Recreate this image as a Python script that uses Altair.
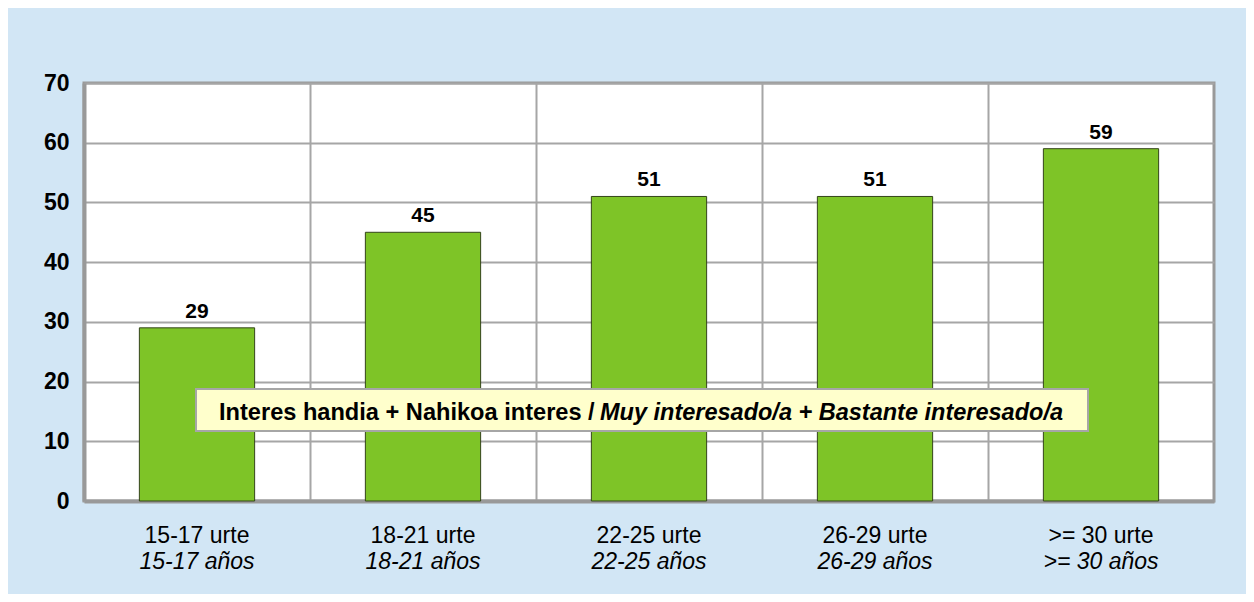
import altair as alt
import pandas as pd

categories_eu = ["15-17 urte", "18-21 urte", "22-25 urte", "26-29 urte", ">= 30 urte"]
categories_es = ["15-17 años", "18-21 años", "22-25 años", "26-29 años", ">= 30 años"]
values = [29, 45, 51, 51, 59]
y_ticks = [0, 10, 20, 30, 40, 50, 60, 70]
legend_part1 = "Interes handia + Nahikoa interes /"
legend_part2 = "Muy interesado/a + Bastante interesado/a"

FONT = "Liberation Sans"
GRID = "#A6A6A6"
FRAME = "#999999"

df = pd.DataFrame({"cat": categories_eu, "cat_es": categories_es, "value": values})

x_enc = alt.X(
    "cat:N",
    sort=categories_eu,
    scale=alt.Scale(paddingInner=0, paddingOuter=0),
    axis=alt.Axis(
        title=None, labels=False, ticks=False, grid=True, bandPosition=0,
        gridColor=GRID, gridWidth=2, domainColor=FRAME, domainWidth=4,
    ),
)
y_enc = alt.Y(
    "value:Q",
    scale=alt.Scale(domain=[0, 70], nice=False),
    axis=alt.Axis(
        title=None, values=y_ticks, ticks=False, grid=True, gridColor=GRID, gridWidth=2,
        domainColor=FRAME, domainWidth=4, labelFont=FONT, labelFontSize=23,
        labelFontWeight="bold", labelColor="#000000", labelPadding=15,
    ),
)

base = alt.Chart(df)

bars = base.mark_bar(
    width=alt.RelativeBandSize(0.51), color="#7EC427", stroke="#34441A", strokeWidth=1
).encode(x=x_enc, y=y_enc)

value_labels = base.mark_text(
    font=FONT, fontSize=21, fontWeight="bold", color="#000000", baseline="alphabetic", dy=-10
).encode(x=alt.X("cat:N", sort=categories_eu), y="value:Q", text="value:Q")

xlab1 = base.mark_text(
    font=FONT, fontSize=23, color="#000000", baseline="alphabetic"
).encode(x=alt.X("cat:N", sort=categories_eu), y=alt.value(460), text="cat:N")

xlab2 = base.mark_text(
    font=FONT, fontSize=23, fontStyle="italic", color="#000000", baseline="alphabetic"
).encode(x=alt.X("cat:N", sort=categories_eu), y=alt.value(486), text="cat_es:N")

box_df = pd.DataFrame({"t1": [legend_part1], "t2": [legend_part2]})
box = alt.Chart(box_df).mark_rect(fill="#FFFFCC", stroke="#A6A6A6", strokeWidth=2).encode(
    x=alt.value(112), x2=alt.value(1004), y=alt.value(306), y2=alt.value(348)
)
box_t1 = alt.Chart(box_df).mark_text(
    font=FONT, fontSize=23.6, fontWeight="bold", color="#000000", align="left", baseline="alphabetic"
).encode(x=alt.value(135), y=alt.value(337), text="t1:N")
box_t2 = alt.Chart(box_df).mark_text(
    font=FONT, fontSize=23.5, fontWeight="bold", fontStyle="italic", color="#000000",
    align="left", baseline="alphabetic"
).encode(x=alt.value(516), y=alt.value(337), text="t2:N")

chart = alt.layer(bars, value_labels, xlab1, xlab2, box, box_t1, box_t2).properties(
    width=1130,
    height=418,
    autosize=alt.AutoSizeParams(type="none"),
    padding={"left": 76, "top": 75, "right": 32, "bottom": 93},
    background="#D2E6F5",
).configure_view(
    stroke=FRAME, strokeWidth=3, fill="#FFFFFF"
)

chart.save("out.html", embed_options={"renderer": "svg", "actions": False})
